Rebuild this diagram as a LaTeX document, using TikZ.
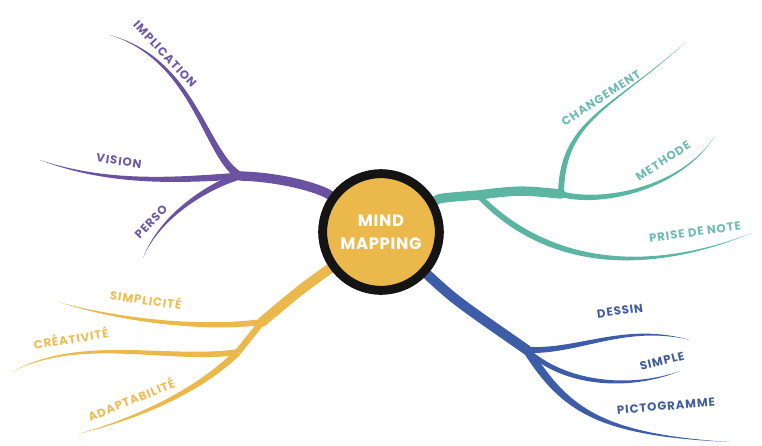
\documentclass[tikz,border=0pt]{standalone}
\usepackage{fontspec}
\newfontfamily\leaffont{Poppins}[LetterSpace=8]
\newfontfamily\mindfont{Poppins}[LetterSpace=4]
\usetikzlibrary{calc}
\usetikzlibrary{backgrounds}

\definecolor{colP}{HTML}{6A52A0}
\definecolor{colT}{HTML}{5CB4A3}
\definecolor{colB}{HTML}{3E5DA8}
\definecolor{colY}{HTML}{EBB84C}
\definecolor{txtP}{HTML}{6E59A6}
\definecolor{txtT}{HTML}{6DBBB2}
\definecolor{txtB}{HTML}{415C9F}
\definecolor{txtY}{HTML}{EDBC52}

\tikzset{
  centre/.style={circle, draw=black!92, line width=7.6pt, fill=colY, minimum size=3.5cm,
    align=center, text=white, font=\mindfont\bfseries\fontsize{14}{19.5}\selectfont},
  trunk/.style={line width=8pt, line cap=round},
  leaf/.style={inner sep=0pt, font=\leaffont\bfseries\fontsize{10}{12}\selectfont}
}

% tapered branch: colour, start, control 1, control 2, tip, half width at start
\newcommand{\twig}[6]{%
  \fill[#1] ($(#2)+(#6)$) .. controls ($(#3)+0.85*(#6)$) and ($(#4)+0.5*(#6)$) .. (#5)
    .. controls ($(#4)-0.5*(#6)$) and ($(#3)-0.85*(#6)$) .. ($(#2)-(#6)$) -- cycle;}

\begin{document}
\begin{tikzpicture}[x=0.03cm, y=-0.03cm]
  \useasboundingbox (0,0) rectangle (762,445);

  % Centre
  \node[centre] (mind) at (381,232) {MIND\\MAPPING};

  % Branch points
  \coordinate (hubP) at (240,176);
  \coordinate (splitT) at (478,195);
  \coordinate (hubT) at (561,194);
  \coordinate (hubB) at (527,350);
  \coordinate (hubY) at (262,322);
  \coordinate (splitY) at (238,352);

  % Tips
  \coordinate (tipImpl) at (110,35);
  \coordinate (tipVision) at (40,160);
  \coordinate (tipPerso) at (143,258);
  \coordinate (tipChange) at (686,42);
  \coordinate (tipMethode) at (715,136);
  \coordinate (tipPrise) at (752,233);
  \coordinate (tipDessin) at (690,340);
  \coordinate (tipSimple) at (680,371);
  \coordinate (tipPicto) at (730,442);
  \coordinate (tipSimpl) at (58,302);
  \coordinate (tipCrea) at (12,372);
  \coordinate (tipAdapt) at (78,434);

  % Branches
  \begin{scope}[on background layer]
    \draw[trunk, colP] (mind) .. controls (320,188) and (280,177) .. (hubP);
    \twig{colP}{hubP}{205,155}{195,60}{tipImpl}{2.5,-3}
    \twig{colP}{hubP}{180,180}{110,185}{tipVision}{0,3.5}
    \twig{colP}{hubP}{210,185}{160,215}{tipPerso}{0.5,3.5}

    \draw[trunk, colT] (mind) .. controls (440,198) .. (splitT) .. controls (520,190) .. (hubT);
    \twig{colT}{hubT}{562,120}{610,110}{tipChange}{3,0}
    \twig{colT}{hubT}{600,205}{680,190}{tipMethode}{0,3}
    \twig{colT}{splitT}{530,250}{620,285}{tipPrise}{0,4}

    \draw[trunk, colB, line width=8.5pt] (mind) .. controls (455,300) .. (hubB);
    \twig{colB}{hubB}{580,352}{625,323}{tipDessin}{0,3}
    \twig{colB}{hubB}{565,385}{630,390}{tipSimple}{0,3}
    \twig{colB}{hubB}{565,410}{600,435}{tipPicto}{3.5,-2.5}

    \draw[trunk, colY, line width=8.5pt] (mind) .. controls (300,290) .. (hubY);
    \draw[colY, line width=5.5pt] (hubY) -- (splitY);
    \twig{colY}{hubY}{200,330}{120,320}{tipSimpl}{0,3}
    \twig{colY}{splitY}{170,362}{80,335}{tipCrea}{0,3}
    \twig{colY}{splitY}{205,385}{150,415}{tipAdapt}{2.3,2.6}
  \end{scope}

  % Labels
  \node[leaf, text=txtP, rotate=-47] (implication) at (165,54) {IMPLICATION};
  \node[leaf, text=txtP, rotate=-8] (vision) at (119,161) {VISION};
  \node[leaf, text=txtP, rotate=47] (perso) at (151,222) {PERSO};

  \node[leaf, text=txtT, rotate=33] (changement) at (601,98) {CHANGEMENT};
  \node[leaf, text=txtT, rotate=33] (methode) at (663,161) {METHODE};
  \node[leaf, text=txtT, rotate=8] (prise) at (695,232) {PRISE DE NOTE};

  \node[leaf, text=txtB, rotate=8] (dessin) at (620,311) {DESSIN};
  \node[leaf, text=txtB, rotate=14] (simple) at (662,361) {SIMPLE};
  \node[leaf, text=txtB, rotate=5] (picto) at (666,406) {PICTOGRAMME};

  \node[leaf, text=txtY, rotate=-8] (simplicite) at (146,299) {SIMPLICITÉ};
  \node[leaf, text=txtY, rotate=9] (creativite) at (71,338) {CRÉATIVITÉ};
  \node[leaf, text=txtY, rotate=22] (adaptabilite) at (131,399) {ADAPTABILITÉ};
\end{tikzpicture}
\end{document}
